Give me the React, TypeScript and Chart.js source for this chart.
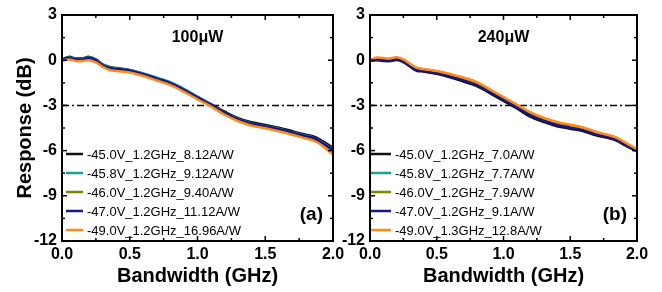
import React, { useEffect, useRef } from 'react';
import { Chart, registerables } from 'chart.js';

Chart.register(...registerables);

// ---- data ----
const freqGHz = [0, 0.05, 0.1, 0.15, 0.2, 0.25, 0.3, 0.35, 0.4, 0.5, 0.6, 0.7, 0.8, 0.9, 1.0, 1.1, 1.2, 1.3, 1.4, 1.5, 1.6, 1.7, 1.8, 1.85, 1.9, 2.0];

const labelsA = ['-45.0V_1.2GHz_8.12A/W', '-45.8V_1.2GHz_9.12A/W', '-46.0V_1.2GHz_9.40A/W', '-47.0V_1.2GHz_11.12A/W', '-49.0V_1.2GHz_16.96A/W'];
const labelsB = ['-45.0V_1.2GHz_7.0A/W', '-45.8V_1.2GHz_7.7A/W', '-46.0V_1.2GHz_7.9A/W', '-47.0V_1.2GHz_9.1A/W', '-49.0V_1.3GHz_12.8A/W'];

const respA_450 = [0.05, 0.22, 0.12, 0.12, 0.22, 0.05, -0.28, -0.45, -0.52, -0.65, -0.9, -1.2, -1.5, -1.95, -2.45, -2.92, -3.42, -3.85, -4.12, -4.3, -4.48, -4.72, -4.95, -5.05, -5.25, -5.8];
const respA_458 = [0.0, 0.18, 0.08, 0.08, 0.18, 0.01, -0.3, -0.48, -0.55, -0.66, -0.88, -1.16, -1.45, -1.9, -2.42, -2.95, -3.5, -3.92, -4.2, -4.38, -4.55, -4.8, -5.02, -5.12, -5.35, -5.9];
const respA_460 = [0.0, 0.12, 0.04, 0.04, 0.12, -0.05, -0.36, -0.55, -0.6, -0.72, -0.95, -1.25, -1.55, -2.0, -2.5, -3.0, -3.55, -3.97, -4.25, -4.43, -4.62, -4.85, -5.1, -5.2, -5.42, -6.0];
const respA_470 = [0.02, 0.14, 0.05, 0.05, 0.14, -0.03, -0.34, -0.52, -0.58, -0.7, -0.93, -1.22, -1.52, -1.97, -2.47, -2.97, -3.5, -3.95, -4.22, -4.4, -4.58, -4.82, -5.05, -5.15, -5.38, -5.95];
const respA_490 = [-0.05, 0.05, -0.05, -0.06, 0.0, -0.15, -0.44, -0.65, -0.72, -0.82, -1.05, -1.35, -1.65, -2.1, -2.6, -3.08, -3.62, -4.05, -4.35, -4.52, -4.72, -4.95, -5.2, -5.32, -5.55, -6.25];

const respB_450 = [-0.05, 0.0, -0.05, -0.06, 0.02, -0.12, -0.42, -0.7, -0.75, -0.9, -1.13, -1.42, -1.72, -2.2, -2.7, -3.2, -3.75, -4.1, -4.38, -4.55, -4.72, -5.0, -5.2, -5.35, -5.6, -6.05];
const respB_458 = [0.0, 0.12, 0.08, 0.07, 0.14, 0.0, -0.3, -0.55, -0.6, -0.75, -0.98, -1.22, -1.52, -2.0, -2.5, -3.0, -3.52, -3.88, -4.15, -4.33, -4.52, -4.8, -5.02, -5.18, -5.45, -5.95];
const respB_460 = [0.0, 0.1, 0.06, 0.05, 0.12, -0.02, -0.32, -0.58, -0.63, -0.78, -1.0, -1.25, -1.56, -2.03, -2.53, -3.03, -3.55, -3.92, -4.2, -4.38, -4.56, -4.85, -5.07, -5.22, -5.5, -6.0];
const respB_470 = [-0.02, 0.04, 0.0, -0.02, 0.06, -0.08, -0.38, -0.65, -0.7, -0.85, -1.08, -1.35, -1.65, -2.12, -2.62, -3.12, -3.65, -4.02, -4.3, -4.48, -4.65, -4.92, -5.15, -5.3, -5.55, -6.02];
const respB_490 = [0.0, 0.18, 0.14, 0.12, 0.2, 0.05, -0.24, -0.5, -0.58, -0.72, -0.92, -1.15, -1.45, -1.95, -2.45, -2.95, -3.45, -3.82, -4.1, -4.28, -4.48, -4.78, -5.0, -5.15, -5.4, -5.9];

const seriesColors = ['#111111', '#1f9c9c', '#7d8400', '#16168c', '#ff8c1a'];
const thresholdDb = -3;
const yTickLabels = [3, 0, -3, -6, -9, -12];
const xTickLabels = [0, 0.5, 1.0, 1.5, 2.0];

const FONT = '"Liberation Sans", Arial, sans-serif';

const framePlugin = {
  id: 'frame',
  afterDatasetsDraw(chart: any, _args: any, opts: any) {
    const { ctx, chartArea: ca, scales } = chart;
    const xs = scales.x;
    const ys = scales.y;
    ctx.save();
    ctx.strokeStyle = '#000';
    ctx.lineWidth = 2;
    ctx.strokeRect(ca.left, ca.top, ca.right - ca.left, ca.bottom - ca.top);
    ctx.lineWidth = 1.5;
    const seg = (x1: number, y1: number, x2: number, y2: number) => {
      ctx.beginPath();
      ctx.moveTo(x1, y1);
      ctx.lineTo(x2, y2);
      ctx.stroke();
    };
    for (let i = 0; i <= 8; i++) {
      const v = xs.min + i * 0.25;
      const px = xs.getPixelForValue(v);
      const len = i % 2 === 0 ? 5 : 3;
      seg(px, ca.bottom, px, ca.bottom - len);
      seg(px, ca.top, px, ca.top + len);
    }
    for (let i = 0; i <= 10; i++) {
      const v = ys.min + i * 1.5;
      const py = ys.getPixelForValue(v);
      const len = i % 2 === 0 ? 5 : 3;
      seg(ca.left, py, ca.left + len, py);
      seg(ca.right, py, ca.right - len, py);
    }
    // power title
    ctx.fillStyle = '#000';
    ctx.font = `bold 16px ${FONT}`;
    ctx.textAlign = 'center';
    ctx.textBaseline = 'middle';
    ctx.fillText(opts.title, (ca.left + ca.right) / 2, ca.top + 23);
    // panel label
    ctx.font = `bold 19px ${FONT}`;
    ctx.textAlign = 'right';
    ctx.fillText(opts.panel, ca.right - 10, ca.bottom - 26);
    // legend
    ctx.font = `13px ${FONT}`;
    ctx.textAlign = 'left';
    const ds = chart.data.datasets;
    for (let i = 0; i < 5; i++) {
      const y = ca.top + 139 + i * 19;
      ctx.strokeStyle = ds[i].borderColor;
      ctx.lineWidth = 2.5;
      seg(ca.left + opts.legendX, y, ca.left + opts.legendX + opts.legendLen, y);
      ctx.fillStyle = '#000';
      ctx.fillText(ds[i].label, ca.left + opts.legendX + opts.legendLen + 4, y + 1);
    }
    ctx.restore();
  },
};

function makeConfig(labels: string[], series: number[][], panel: string, title: string, isLeft: boolean, rightPad: number, yWidth: number) {
  const datasets: any[] = series.map((arr, i) => ({
    label: labels[i],
    data: freqGHz.map((x, j) => ({ x, y: arr[j] })),
    borderColor: seriesColors[i],
    backgroundColor: seriesColors[i],
    borderWidth: 2.5,
    pointRadius: 0,
    tension: 0.4,
    order: 10 - i,
  }));
  datasets.push({
    label: '-3 dB',
    data: [{ x: 0, y: thresholdDb }, { x: 2, y: thresholdDb }],
    borderColor: '#000',
    borderWidth: 1.5,
    borderDash: [7, 3, 2, 3],
    pointRadius: 0,
    order: 20,
  });
  return {
    type: 'line',
    data: { datasets },
    plugins: [framePlugin],
    options: {
      animation: false,
      responsive: false,
      maintainAspectRatio: false,
      layout: { padding: { top: 15, right: rightPad, left: 0, bottom: 0 } },
      plugins: {
        legend: { display: false },
        tooltip: { enabled: false },
        frame: { title, panel, legendX: isLeft ? 4 : 1, legendLen: isLeft ? 17 : 20 },
      },
      scales: {
        x: {
          type: 'linear',
          min: 0,
          max: 2,
          afterBuildTicks: (s: any) => { s.ticks = xTickLabels.map((v) => ({ value: v })); },
          ticks: {
            callback: (v: any) => Number(v).toFixed(1),
            font: { family: FONT, size: 16, weight: 'bold' },
            color: '#000',
            padding: 4,
            maxRotation: 0,
            autoSkip: false,
          },
          grid: { display: false, drawTicks: false },
          border: { display: false },
          title: {
            display: true,
            text: 'Bandwidth (GHz)',
            font: { family: FONT, size: 20, weight: 'bold' },
            color: '#000',
            padding: { top: 0, bottom: 4 },
          },
          afterFit: (s: any) => { s.height = 51; },
        },
        y: {
          type: 'linear',
          min: -12,
          max: 3,
          afterBuildTicks: (s: any) => { s.ticks = yTickLabels.map((v) => ({ value: v })); },
          ticks: {
            font: { family: FONT, size: 16, weight: 'bold' },
            color: '#000',
            padding: 5,
            autoSkip: false,
          },
          grid: { display: false, drawTicks: false },
          border: { display: false },
          title: {
            display: isLeft,
            text: 'Response (dB)',
            font: { family: FONT, size: 20, weight: 'bold' },
            color: '#000',
            padding: { top: 13, bottom: 2 },
          },
          afterFit: (s: any) => { s.width = yWidth; },
        },
      },
    },
  };
}

export default function App() {
  const refA = useRef<HTMLCanvasElement>(null);
  const refB = useRef<HTMLCanvasElement>(null);
  useEffect(() => {
    const ca = new Chart(refA.current as any, makeConfig(labelsA, [respA_450, respA_458, respA_460, respA_470, respA_490], '(a)', '100\u03bcW', true, 17, 62) as any);
    const cb = new Chart(refB.current as any, makeConfig(labelsB, [respB_450, respB_458, respB_460, respB_470, respB_490], '(b)', '240\u03bcW', false, 25, 40) as any);
    return () => { ca.destroy(); cb.destroy(); };
  }, []);
  return (
    <div style={{ position: 'fixed', left: 0, top: 0, width: 662, height: 292, background: '#fff' }}>
      <canvas ref={refA} width={350} height={292} style={{ position: 'absolute', left: 0, top: 0, width: 350, height: 292 }} />
      <canvas ref={refB} width={332} height={292} style={{ position: 'absolute', left: 330, top: 0, width: 332, height: 292 }} />
    </div>
  );
}
